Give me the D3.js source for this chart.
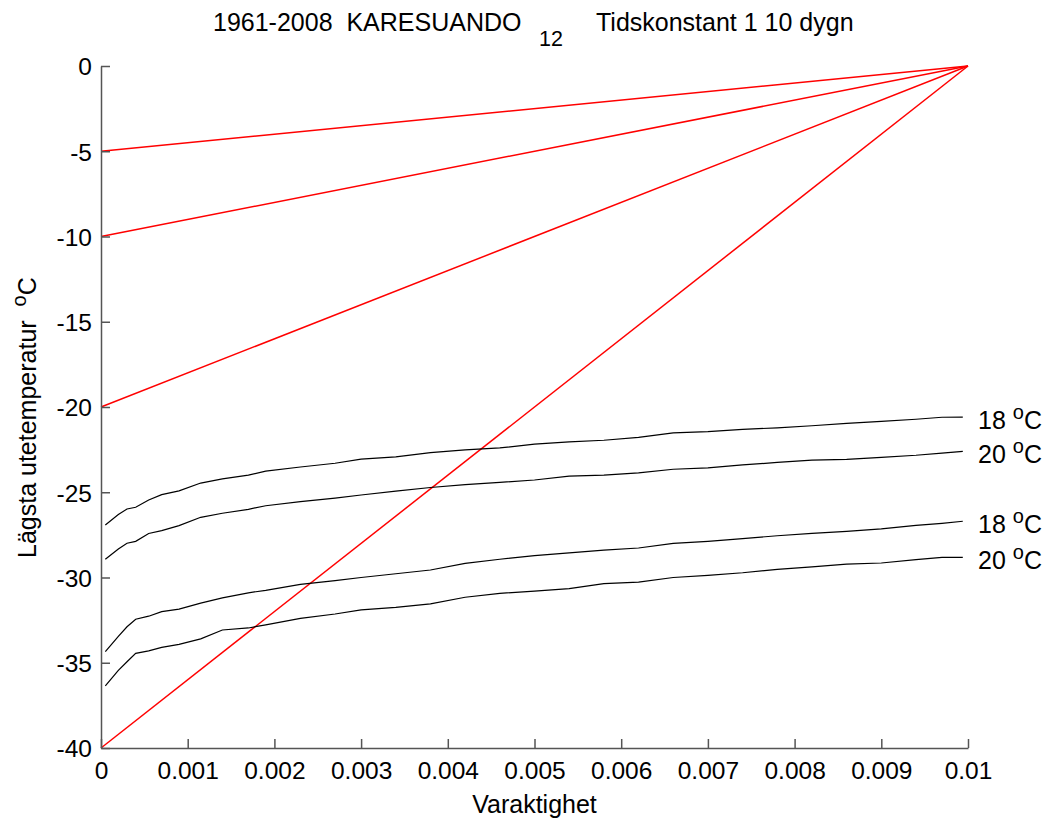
<!DOCTYPE html>
<html><head><meta charset="utf-8">
<script src="https://cdn.jsdelivr.net/npm/d3@7"></script>
<style>body{margin:0;background:#fff}svg{display:block}text{font-family:Arial,"Liberation Sans",Helvetica,sans-serif;fill:#000}</style>
</head><body><svg id="c" width="1049" height="821"></svg>
<script>
// x positions (Varaktighet)
const xs = [0.00005,0.0002,0.0003,0.0004,0.00055,0.0007,0.0009,0.00115,0.0014,0.0017,0.0019,0.0023,0.0027,0.0030,0.0034,0.0038,0.0042,0.0046,0.0050,0.0054,0.0058,0.0062,0.0066,0.0070,0.0074,0.0078,0.0082,0.0086,0.0090,0.0094,0.0097,0.00994];
const curveA18 = [-26.92,-26.30,-25.98,-25.88,-25.45,-25.14,-24.92,-24.46,-24.22,-24.00,-23.76,-23.52,-23.30,-23.06,-22.93,-22.68,-22.52,-22.40,-22.18,-22.05,-21.95,-21.78,-21.52,-21.45,-21.31,-21.22,-21.10,-20.96,-20.84,-20.72,-20.60,-20.59];
const curveA20 = [-28.93,-28.33,-27.99,-27.88,-27.42,-27.25,-26.96,-26.47,-26.23,-26.00,-25.79,-25.55,-25.34,-25.16,-24.93,-24.72,-24.55,-24.42,-24.28,-24.05,-24.00,-23.86,-23.65,-23.57,-23.40,-23.25,-23.12,-23.07,-22.95,-22.83,-22.70,-22.60];
const curveB18 = [-34.35,-33.45,-32.89,-32.45,-32.27,-32.00,-31.85,-31.50,-31.20,-30.90,-30.75,-30.40,-30.18,-30.00,-29.78,-29.56,-29.17,-28.93,-28.72,-28.55,-28.39,-28.27,-28.00,-27.88,-27.72,-27.55,-27.41,-27.29,-27.15,-26.94,-26.82,-26.70];
const curveB20 = [-36.36,-35.45,-34.94,-34.45,-34.30,-34.10,-33.92,-33.60,-33.08,-32.96,-32.78,-32.40,-32.14,-31.90,-31.75,-31.55,-31.16,-30.93,-30.80,-30.65,-30.36,-30.27,-30.00,-29.87,-29.72,-29.52,-29.38,-29.22,-29.15,-28.95,-28.82,-28.82];
const curveLabels = ["18","20","18","20"];
// red reference lines: start temperature at x=0, all end at (0.01, 0)
const redStarts = [-5,-10,-20,-40];
const redEnd = [0.01, 0];
const xTicks = [0,0.001,0.002,0.003,0.004,0.005,0.006,0.007,0.008,0.009,0.01];
const xTickLabels = ["0","0.001","0.002","0.003","0.004","0.005","0.006","0.007","0.008","0.009","0.01"];
const yTicks = [0,-5,-10,-15,-20,-25,-30,-35,-40];

const svg = d3.select("#c");
const L=101,R=968,T=66,B=748;
const x = d3.scaleLinear().domain([0,0.01]).range([L,R]);
const y = d3.scaleLinear().domain([-40,0]).range([B,T]);
const FS = 24.5, FT = 25;

// red lines
const line = d3.line().x(d=>x(d[0])).y(d=>y(d[1]));
svg.append("g").selectAll("path").data(redStarts).join("path")
  .attr("d", s=>line([[0,s],redEnd])).attr("fill","none").attr("stroke","#ff0000").attr("stroke-width",1.5);

// black curves
const curves = [curveA18,curveA20,curveB18,curveB20];
svg.append("g").selectAll("path").data(curves).join("path")
  .attr("d", c=>line(c.map((v,i)=>[xs[i],v]))).attr("fill","none").attr("stroke","#000").attr("stroke-width",1.2);

// axes
const xAxis = d3.axisBottom(x).tickValues(xTicks).tickFormat((d,i)=>xTickLabels[i]).tickSizeInner(-9).tickSizeOuter(0).tickPadding(14);
const gx = svg.append("g").attr("transform",`translate(0,${B})`).call(xAxis);
const yAxis = d3.axisLeft(y).tickValues(yTicks).tickFormat(d=>String(d)).tickSizeInner(-9).tickSizeOuter(0).tickPadding(9);
const gy = svg.append("g").attr("transform",`translate(${L},0)`).call(yAxis);
[gx,gy].forEach(g=>{
  g.select(".domain").attr("stroke","#555").attr("stroke-width",1.5);
  g.selectAll(".tick line").attr("stroke","#555").attr("stroke-width",1.5);
  g.selectAll(".tick text").attr("font-size",FS).attr("font-family","Arial, 'Liberation Sans', sans-serif").attr("fill","#000");
});
gy.selectAll(".tick text").attr("dy","0.36em");

// right labels
curves.forEach((c,i)=>{
  const t = svg.append("text").attr("x",978).attr("y",y(c[c.length-1])+12).attr("font-size",FT);
  t.append("tspan").text(curveLabels[i]+" ");
  t.append("tspan").attr("dy",-10).attr("font-size",FT*0.8).text("o");
  t.append("tspan").attr("dy",10).text("C");
});

// title
const title = svg.append("text").attr("y",31).attr("font-size",FT).attr("xml:space","preserve");
title.append("tspan").attr("x",213).text("1961-2008  KARESUANDO");
title.append("tspan").attr("x",539).attr("dy",15).attr("font-size",21.5).text("12");
title.append("tspan").attr("x",596).attr("dy",-15).text("Tidskonstant 1 10 dygn");

// x label
svg.append("text").attr("x",(L+R)/2).attr("y",813).attr("text-anchor","middle").attr("font-size",FT).text("Varaktighet");

// y label
const yl = svg.append("text").attr("transform",`translate(36,558) rotate(-90)`).attr("font-size",FT).attr("xml:space","preserve");
yl.append("tspan").text("Lägsta utetemperatur  ");
yl.append("tspan").attr("dy",-10).attr("font-size",FT*0.8).text("o");
yl.append("tspan").attr("dy",10).text("C");
</script></body></html>
